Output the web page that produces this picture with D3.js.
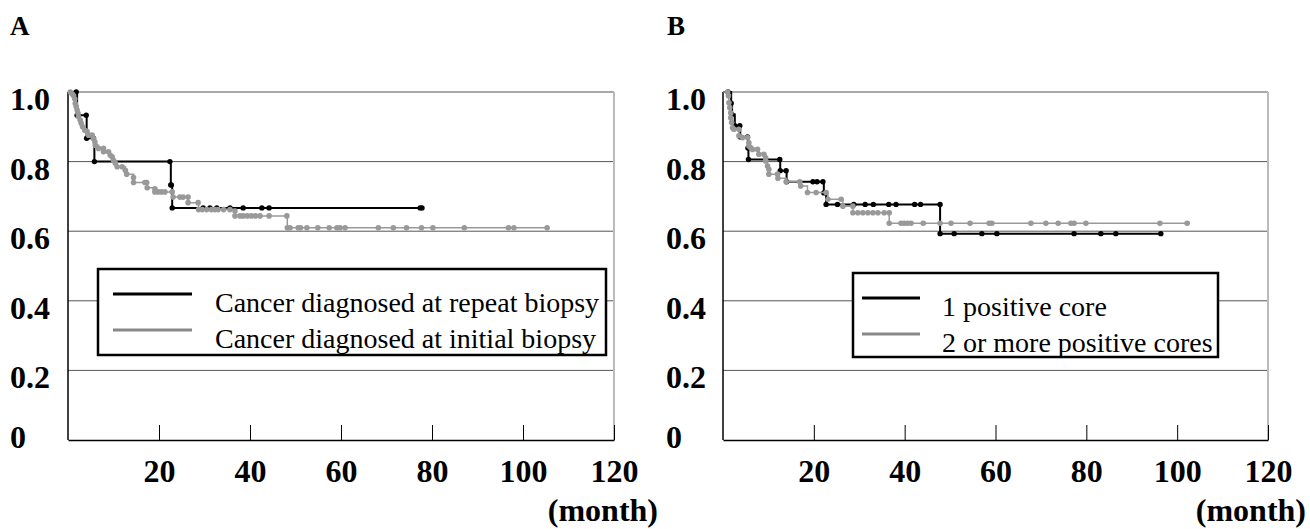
<!DOCTYPE html>
<html>
<head>
<meta charset="utf-8">
<script src="https://cdn.jsdelivr.net/npm/d3@7"></script>
<style>
  body { margin: 0; background: #fff; }
  text { font-family: "Liberation Serif", "Times New Roman", serif; }
</style>
</head>
<body>
<div id="chart"></div>
<script>
// x axis ticks (months) and y axis ticks (survival)
const monthTicks = [20, 40, 60, 80, 100, 120];
const survTicks = [0, 0.2, 0.4, 0.6, 0.8, 1.0];
const survLabels = ["0", "0.2", "0.4", "0.6", "0.8", "1.0"];

// panel A: [month, survival]
const repeatBiopsy = [[0,1],[1.8,1],[2.0,0.933],[4.0,0.933],[4.1,0.867],[5.6,0.867],[5.8,0.8],[22.4,0.8],
  [22.6,0.733],[22.7,0.733],[22.9,0.667],[29.7,0.667],[31.2,0.667],[32.7,0.667],[35.6,0.667],[38.5,0.667],
  [42.6,0.667],[44.2,0.667],[77.4,0.667],[77.8,0.667]];
const initialBiopsy = [[0,1],[0.5,1],[0.9,0.995],[1.2,0.99],[1.5,0.98],[1.6,0.967],[1.8,0.958],[2.0,0.948],
  [2.2,0.939],[2.3,0.929],[2.7,0.919],[2.9,0.91],[3.2,0.9],[3.7,0.89],[4.2,0.886],[4.5,0.876],[5.3,0.876],
  [5.6,0.867],[5.9,0.857],[6.0,0.847],[6.7,0.838],[7.8,0.838],[7.8,0.828],[8.9,0.828],[9.3,0.818],[9.7,0.814],
  [10.0,0.804],[10.4,0.795],[10.8,0.785],[11.9,0.785],[12.6,0.775],[12.9,0.764],[14.4,0.754],[14.4,0.74],
  [16.9,0.74],[17.3,0.74],[17.4,0.725],[19.1,0.722],[19.1,0.713],[19.8,0.713],[20.5,0.713],[21.3,0.713],
  [22.9,0.713],[23.1,0.698],[24.6,0.698],[25.3,0.698],[26.4,0.698],[26.4,0.682],[28.6,0.682],[28.7,0.662],
  [29.5,0.662],[30.5,0.662],[31.5,0.662],[32.3,0.662],[33.0,0.662],[34.2,0.662],[35.6,0.662],[36.7,0.658],
  [36.7,0.644],[37.8,0.644],[38.5,0.644],[39.4,0.644],[40.3,0.644],[41.2,0.644],[42.2,0.644],[44.2,0.644],
  [48.1,0.644],[48.2,0.61],[48.8,0.61],[50.6,0.61],[51.1,0.61],[52.5,0.61],[54.9,0.61],[57.4,0.61],[59.1,0.61],
  [59.8,0.61],[60.9,0.61],[68.2,0.61],[71.5,0.61],[74.4,0.61],[77.7,0.61],[80.2,0.61],[87.1,0.61],[96.8,0.61],
  [98.0,0.61],[105.3,0.61]];

// panel B
const onePositiveCore = [[0,1],[1.1,1],[1.8,0.968],[2.0,0.935],[2.6,0.903],[3.7,0.903],[3.8,0.871],[5.4,0.871],
  [5.5,0.839],[5.6,0.806],[12.5,0.806],[12.6,0.774],[13.9,0.774],[14.0,0.742],[19.8,0.742],[20.7,0.742],
  [22.0,0.742],[22.2,0.71],[22.7,0.677],[25.2,0.677],[28.8,0.677],[31.3,0.677],[33.1,0.677],[36.5,0.677],
  [38.1,0.677],[42.2,0.677],[43.5,0.677],[47.8,0.677],[47.8,0.593],[50.9,0.593],[57.0,0.593],[60.3,0.593],
  [77.3,0.593],[83.2,0.593],[86.5,0.593],[96.4,0.593]];
const twoOrMoreCores = [[0,1],[1.0,1],[1.2,0.989],[1.3,0.969],[1.5,0.955],[1.7,0.94],[1.7,0.926],[1.9,0.912],
  [2.1,0.897],[2.4,0.893],[3.5,0.893],[3.5,0.874],[4.3,0.869],[5.4,0.869],[5.7,0.854],[5.7,0.845],[6.1,0.84],
  [6.5,0.835],[7.6,0.835],[7.9,0.821],[9.0,0.821],[9.4,0.811],[9.4,0.802],[9.8,0.787],[10.1,0.778],[10.1,0.764],
  [12.0,0.764],[12.1,0.752],[13.9,0.742],[16.9,0.742],[17.1,0.73],[18.6,0.711],[20.5,0.711],[22.7,0.711],
  [23.1,0.692],[26.0,0.692],[26.4,0.672],[28.6,0.672],[28.6,0.653],[29.7,0.653],[30.8,0.653],[31.9,0.653],
  [33.0,0.653],[34.1,0.653],[35.5,0.653],[36.6,0.653],[36.6,0.623],[39.2,0.623],[39.9,0.623],[40.6,0.623],
  [41.4,0.623],[44.1,0.623],[47.8,0.623],[50.2,0.623],[54.4,0.623],[58.6,0.623],[59.2,0.623],[67.8,0.623],
  [71.1,0.623],[73.8,0.623],[76.6,0.623],[77.3,0.623],[79.9,0.623],[96.2,0.623],[102.2,0.623]];

const svg = d3.select("#chart").append("svg")
  .attr("width", 1310)
  .attr("height", 529);

const panels = [
  { letter: "A", letterX: 10, labelX: 10, left: 68, right: 614, unitX: 658,
    black: repeatBiopsy, gray: initialBiopsy,
    legend: { x: 98, y: 269, w: 508, h: 86, lineX: [15, 94], textX: 117,
      names: ["Cancer diagnosed at repeat biopsy", "Cancer diagnosed at initial biopsy"] } },
  { letter: "B", letterX: 667, labelX: 666, left: 723, right: 1268, unitX: 1306,
    black: onePositiveCore, gray: twoOrMoreCores,
    legend: { x: 853, y: 273, w: 365, h: 84, lineX: [9, 67], textX: 89,
      names: ["1 positive core", "2 or more positive cores"] } }
];

function drawPanel(p) {
  const x = d3.scaleLinear().domain([0, 120]).range([p.left, p.right]);
  const y = d3.scaleLinear().domain([0, 1]).range([440, 92]);
  const g = svg.append("g");

  g.append("text").attr("x", p.letterX).attr("y", 35)
    .attr("font-size", 27).attr("font-weight", "bold").text(p.letter);

  // gridlines
  g.selectAll(".grid").data(survTicks.filter(d => d > 0)).join("line")
    .attr("x1", p.left).attr("x2", p.right)
    .attr("y1", d => y(d)).attr("y2", d => y(d))
    .attr("stroke", "#555").attr("stroke-width", 1);
  // plot area right border
  g.append("line").attr("x1", p.right).attr("x2", p.right).attr("y1", y(1)).attr("y2", y(0))
    .attr("stroke", "#bbb").attr("stroke-width", 2);
  // left axis
  g.append("line").attr("x1", p.left).attr("x2", p.left).attr("y1", y(1)).attr("y2", y(0))
    .attr("stroke", "#000").attr("stroke-width", 1.5);

  // bottom axis
  const ax = g.append("g").attr("transform", "translate(0," + y(0) + ")")
    .call(d3.axisBottom(x).tickValues(monthTicks).tickSizeInner(-15).tickSizeOuter(0).tickPadding(19));
  ax.select(".domain").attr("stroke", "#000").attr("stroke-width", 1.5);
  ax.selectAll(".tick line").attr("stroke", "#000");
  ax.selectAll(".tick text")
    .attr("font-size", 32).attr("font-weight", "bold").attr("fill", "#000");

  g.append("text").attr("x", p.unitX).attr("y", 521).attr("text-anchor", "end")
    .attr("font-size", 32).attr("font-weight", "bold").text("(month)");

  // y labels
  g.selectAll(".ylab").data(survTicks).join("text")
    .attr("x", p.labelX)
    .attr("y", d => y(d) + (d === 0 ? 8 : 18))
    .attr("font-size", 32).attr("font-weight", "bold")
    .text((d, i) => survLabels[i]);

  const line = d3.line().x(d => x(d[0])).y(d => y(d[1])).curve(d3.curveStepAfter);
  const series = [
    { data: p.black, color: "#000", width: 2, r: 2.7 },
    { data: p.gray, color: "#999", width: 1.5, r: 2.8 }
  ];
  series.forEach(s => {
    g.append("path").datum(s.data).attr("d", line)
      .attr("fill", "none").attr("stroke", s.color).attr("stroke-width", s.width);
    g.append("g").selectAll("circle").data(s.data.slice(1)).join("circle")
      .attr("cx", d => x(d[0])).attr("cy", d => y(d[1])).attr("r", s.r)
      .attr("fill", s.color);
  });

  // legend
  const L = p.legend;
  const lg = g.append("g");
  lg.append("rect").attr("x", L.x).attr("y", L.y).attr("width", L.w).attr("height", L.h)
    .attr("fill", "#fff").attr("stroke", "#000").attr("stroke-width", 2.5);
  const colors = ["#000", "#888"];
  L.names.forEach((name, i) => {
    const ly = L.y + 25 + i * 36;
    lg.append("line").attr("x1", L.x + L.lineX[0]).attr("x2", L.x + L.lineX[1])
      .attr("y1", ly).attr("y2", ly).attr("stroke", colors[i]).attr("stroke-width", 3);
    lg.append("text").attr("x", L.x + L.textX).attr("y", ly + 18)
      .attr("font-size", 28).text(name);
  });
}

panels.forEach(drawPanel);
</script>
</body>
</html>
